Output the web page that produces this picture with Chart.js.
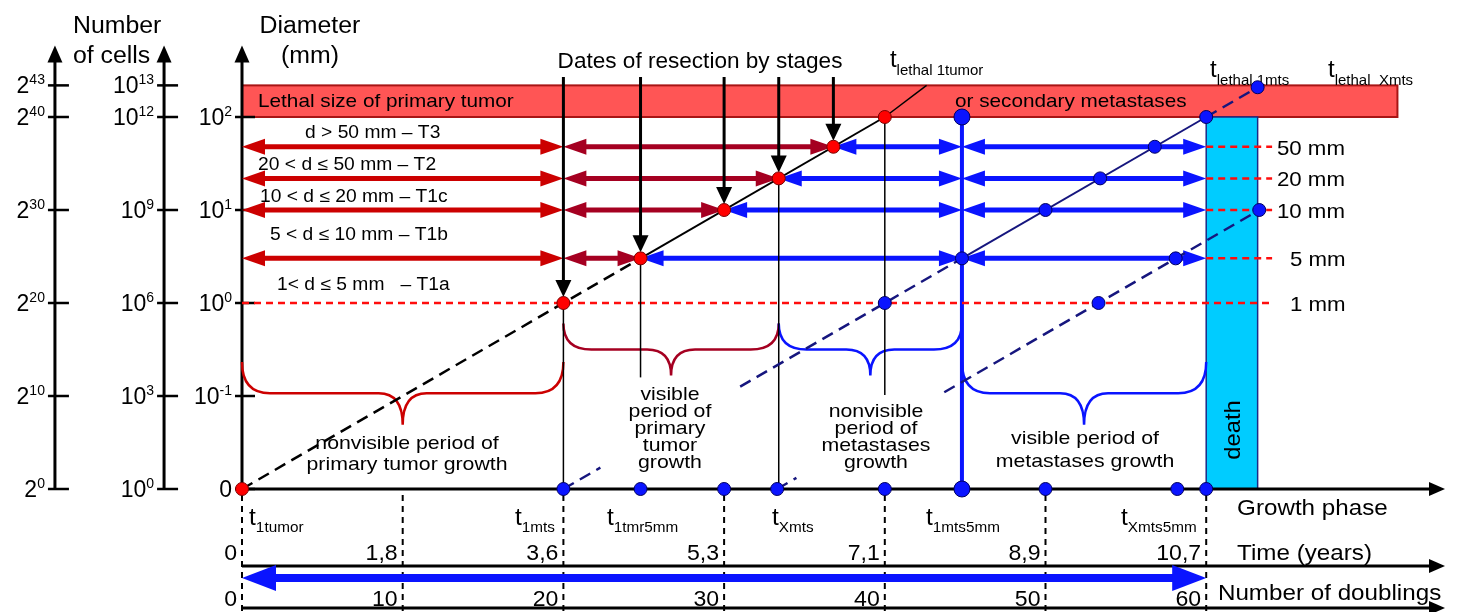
<!DOCTYPE html>
<html>
<head>
<meta charset="utf-8">
<script src="https://cdn.jsdelivr.net/npm/chart.js@4.4.0/dist/chart.umd.min.js"></script>
<style>
  html, body { margin: 0; padding: 0; background: #ffffff; }
  canvas { display: block; }
</style>
</head>
<body>
<canvas id="growth" width="1465" height="612"></canvas>
<script>
// ---- horizontal axis: number of tumour doublings, with the matching time in years
const doublings = [0, 10, 20, 30, 40, 50, 60];
const years = ['0', '1,8', '3,6', '5,3', '7,1', '8,9', '10,7'];

// ---- vertical axis: log2 of the number of cells
const cellTickPos = [0, 10, 20, 30, 40, 43.4];
const pow2Exp = ['0', '10', '20', '30', '40', '43'];
const pow10Exp = ['0', '3', '6', '9', '12', '13'];
const diamTickPos = [0, 10, 20, 30, 40];
const diamBase = ['0', '10', '10', '10', '10'];
const diamExp = ['', '-1', '0', '1', '2'];

// ---- diameter rows (log2 cell level) and T stages
const rowNames = ['1 mm', '5 mm', '10 mm', '20 mm', '50 mm'];
const rowLevels = [20, 24.8, 30, 33.4, 36.8];
const stageNames = ['1< d \u2264 5 mm   \u2013 T1a', '5 < d \u2264 10 mm \u2013 T1b', '10 < d \u2264 20 mm \u2013 T1c',
                    '20 < d \u2264 50 mm \u2013 T2', 'd > 50 mm \u2013 T3'];
const lethalLevel = 40;
const lethalTop = 43.4;
const lethalBandEnd = 71.9;

// ---- growth onsets and key dates (doublings)
const onsetPrimary = 0;
const onsetMts1 = 20;
const onsetMtsX = 33.3;
const t1mts5mm = 44.8;
const deathFrom = 60;
const deathTo = 63.2;
const axisMarks = [20, 24.8, 30, 33.3, 40, 50, 58.2, 60];

// ---- visible stretches of the growth lines
const primaryDashed = [[0, 0], [24.8, 24.8]];
const primarySolid = [[24.8, 24.8], [40, 40]];
const primaryTail = [[40, 40], [42.6, 43.4]];
const mts1Dashed = [[20, 22.3], [31, 44.8], [60, 63.2]];
const mts1Solid = [[44.8, 60]];
const mtsXDashed = [[33.3, 34.5], [43.7, 63.3]];
const mts1DotLevels = [20, 24.8, 30, 33.4, 36.8, 40, 43.2];
const mtsXDotLevels = [20, 24.8, 30];
// thin drop lines below the primary tumour dates: [date, lower end]
const dropLines = [[20, 0], [24.8, 12.0], [33.4, 0], [40, 10.1]];

const BLUE = '#0a14ff', NAVY = '#16167e', RED = '#cc0000', DARKRED = '#a50021', LINERED = '#ff0d0d';
const FONT = '"Liberation Sans", Arial, Helvetica, sans-serif';
const STRETCH = 1.12;

const pts = arr => arr.map(([x, y]) => ({ x, y }));
const along = (ranges, onset) => ranges.map(([a, b]) => [[a, a - onset], [b, b - onset]]);

function lineDS(points, color, width, dash) {
  return { data: pts(points), showLine: true, borderColor: color, borderWidth: width,
           borderDash: dash || [], borderCapStyle: 'butt', pointRadius: 0, pointHoverRadius: 0,
           fill: false, tension: 0, order: 2, clip: false };
}
function dotDS(points, fill, stroke, r) {
  return { data: pts(points), showLine: false, backgroundColor: fill, borderColor: stroke,
           borderWidth: 1, pointRadius: r, pointHoverRadius: r, order: 1, clip: false };
}

const datasets = [];
// dots
datasets.push(dotDS([[onsetPrimary, 0]].concat(rowLevels.map(l => [l, l]), [[lethalLevel, lethalLevel]]), '#ff0000', '#7a0000', 6.5));
datasets.push(dotDS(axisMarks.map(t => [t, 0]), BLUE, '#000060', 6.5));
datasets.push(dotDS(mts1DotLevels.map(l => [l + onsetMts1, l]), BLUE, '#000060', 6.5));
datasets.push(dotDS(mtsXDotLevels.map(l => [l + onsetMtsX, l]), BLUE, '#000060', 6.5));
datasets.push(dotDS([[t1mts5mm, 0], [t1mts5mm, lethalLevel]], BLUE, '#000060', 8));
// primary tumour growth
datasets.push(lineDS(primaryDashed, '#000', 2.5, [12, 7]));
datasets.push(lineDS(primarySolid, '#000', 2));
datasets.push(lineDS(primaryTail, '#000', 1.5));
// metastases growth
along(mts1Dashed, onsetMts1).forEach(s => datasets.push(lineDS(s, NAVY, 2.5, [12, 7])));
along(mts1Solid, onsetMts1).forEach(s => datasets.push(lineDS(s, NAVY, 2)));
along(mtsXDashed, onsetMtsX).forEach(s => datasets.push(lineDS(s, NAVY, 2.5, [12, 7])));
// drop lines
dropLines.forEach(([t, low]) => datasets.push(lineDS([[t, low], [t, t]], '#000', 1.5)));
// 1 mm threshold and the right-hand diameter markers
datasets.push(lineDS([[0, rowLevels[0]], [64.1, rowLevels[0]]], LINERED, 2.5, [7, 5]));
rowLevels.slice(1).forEach(l => datasets.push(lineDS([[deathFrom, l], [64.1, l]], LINERED, 2.5, [7, 5])));

// ---------- drawing helpers
function put(ctx, str, x, y, size, align, color, stretch) {
  stretch = stretch || STRETCH;
  ctx.save();
  ctx.font = size + 'px ' + FONT;
  ctx.textBaseline = 'alphabetic';
  ctx.textAlign = 'left';
  const w = ctx.measureText(str).width * stretch;
  const x0 = align === 'center' ? x - w / 2 : align === 'right' ? x - w : x;
  ctx.translate(x0, y);
  ctx.scale(stretch, 1);
  ctx.fillStyle = color || '#000';
  ctx.fillText(str, 0, 0);
  ctx.restore();
}
function putRich(ctx, parts, x, y, align, stretch) {
  stretch = stretch || STRETCH;
  ctx.save();
  const widths = parts.map(p => { ctx.font = p[1] + 'px ' + FONT; return ctx.measureText(p[0]).width * stretch; });
  const total = widths.reduce((a, b) => a + b, 0);
  let cx = align === 'center' ? x - total / 2 : align === 'right' ? x - total : x;
  parts.forEach((p, i) => {
    ctx.save();
    ctx.font = p[1] + 'px ' + FONT;
    ctx.textBaseline = 'alphabetic';
    ctx.textAlign = 'left';
    ctx.translate(cx, y + (p[2] || 0));
    ctx.scale(stretch, 1);
    ctx.fillStyle = '#000';
    ctx.fillText(p[0], 0, 0);
    ctx.restore();
    cx += widths[i];
  });
  ctx.restore();
}
function head(ctx, tx, ty, dx, dy, len, half, color) {
  const bx = tx - dx * len, by = ty - dy * len, nx = -dy, ny = dx;
  ctx.beginPath();
  ctx.moveTo(tx, ty);
  ctx.lineTo(bx + nx * half, by + ny * half);
  ctx.lineTo(bx - nx * half, by - ny * half);
  ctx.closePath();
  ctx.fillStyle = color;
  ctx.fill();
}
function hArrow(ctx, x1, x2, y, color, width, len, half) {
  ctx.save();
  ctx.strokeStyle = color;
  ctx.lineWidth = width;
  ctx.beginPath();
  ctx.moveTo(x1 + len * 0.7, y);
  ctx.lineTo(x2 - len * 0.7, y);
  ctx.stroke();
  head(ctx, x1, y, -1, 0, len, half, color);
  head(ctx, x2, y, 1, 0, len, half, color);
  ctx.restore();
}
function vLine(ctx, x, y1, y2, color, width, dash) {
  ctx.save();
  ctx.strokeStyle = color;
  ctx.lineWidth = width;
  ctx.setLineDash(dash || []);
  ctx.beginPath();
  ctx.moveTo(x, y1);
  ctx.lineTo(x, y2);
  ctx.stroke();
  ctx.restore();
}
function hLine(ctx, x1, x2, y, color, width) {
  ctx.save();
  ctx.strokeStyle = color;
  ctx.lineWidth = width;
  ctx.beginPath();
  ctx.moveTo(x1, y);
  ctx.lineTo(x2, y);
  ctx.stroke();
  ctx.restore();
}
function brace(ctx, x1, x2, yTop, yMid, yTip, color) {
  const xm = (x1 + x2) / 2, r = 28, r2 = 24;
  ctx.save();
  ctx.strokeStyle = color;
  ctx.lineWidth = 2.5;
  ctx.beginPath();
  ctx.moveTo(x1, yTop);
  ctx.quadraticCurveTo(x1, yMid, x1 + r, yMid);
  ctx.lineTo(xm - r2, yMid);
  ctx.quadraticCurveTo(xm, yMid, xm, yTip);
  ctx.quadraticCurveTo(xm, yMid, xm + r2, yMid);
  ctx.lineTo(x2 - r, yMid);
  ctx.quadraticCurveTo(x2, yMid, x2, yTop);
  ctx.stroke();
  ctx.restore();
}

const diagram = {
  id: 'diagram',
  beforeDatasetsDraw(chart) {
    const ctx = chart.ctx;
    const X = v => chart.scales.x.getPixelForValue(v);
    const Y = v => chart.scales.y.getPixelForValue(v);

    // lethal size band
    ctx.save();
    ctx.fillStyle = '#ff5555';
    ctx.strokeStyle = '#a81515';
    ctx.lineWidth = 2;
    ctx.fillRect(X(0), Y(lethalTop), X(lethalBandEnd) - X(0), Y(lethalLevel) - Y(lethalTop));
    ctx.strokeRect(X(0), Y(lethalTop), X(lethalBandEnd) - X(0), Y(lethalLevel) - Y(lethalTop));
    ctx.restore();
    put(ctx, 'Lethal size of primary tumor', X(1.0), Y(41.08), 18.5);
    put(ctx, 'or secondary metastases', X(44.37), Y(41.08), 18.5);

    // death period
    ctx.save();
    ctx.fillStyle = '#00ccff';
    ctx.strokeStyle = '#1c2a86';
    ctx.lineWidth = 1.5;
    ctx.fillRect(X(deathFrom), Y(lethalLevel), X(deathTo) - X(deathFrom), Y(0) - Y(lethalLevel));
    ctx.strokeRect(X(deathFrom), Y(lethalLevel), X(deathTo) - X(deathFrom), Y(0) - Y(lethalLevel));
    ctx.restore();
    ctx.save();
    ctx.translate(X((deathFrom + deathTo) / 2) + 8, Y(6.34));
    ctx.rotate(-Math.PI / 2);
    put(ctx, 'death', 0, 0, 22, 'center', '#000', 1.08);
    ctx.restore();

    // cell-count and diameter axes
    const axes = [{ x: -11.64, base: '2', exp: pow2Exp, pos: cellTickPos },
                  { x: -4.85, base: '10', exp: pow10Exp, pos: cellTickPos }];
    const top = Y(47.7);
    axes.forEach(a => {
      const ax = X(a.x);
      vLine(ctx, ax, Y(0), top + 12, '#000', 3);
      head(ctx, ax, top, 0, -1, 17, 7.5, '#000');
      a.pos.forEach((p, i) => {
        hLine(ctx, ax - 7, ax + 14, Y(p), '#000', 2.5);
        putRich(ctx, [[a.base, 23], [a.exp[i], 14, -9]], ax - 10, Y(p) + 8, 'right', 1.0);
      });
    });
    const dx = X(0);
    vLine(ctx, dx, Y(0), top + 12, '#000', 3);
    head(ctx, dx, top, 0, -1, 17, 7.5, '#000');
    diamTickPos.forEach((p, i) => {
      hLine(ctx, dx - 7, dx + 13, Y(p), '#000', 2.5);
      putRich(ctx, [[diamBase[i], 23], [diamExp[i], 14, -9]], dx - 10, Y(p) + 8, 'right', 1.0);
    });
    put(ctx, 'Number', X(-10.52), Y(49.03), 23, 'left', '#000', 1.08);
    put(ctx, 'of cells', X(-10.52), Y(45.8), 23, 'left', '#000', 1.08);
    put(ctx, 'Diameter', X(4.23), Y(49.03), 23, 'center', '#000', 1.08);
    put(ctx, '(mm)', X(4.23), Y(45.8), 23, 'center', '#000', 1.08);

    // growth phase, time and doublings axes
    const rightEnd = X(74.86);
    [[0, 3], [-8.28, 3], [-12.8, 3]].forEach(([lv, w]) => {
      hLine(ctx, X(0), rightEnd - 10, Y(lv), '#000', w);
      head(ctx, rightEnd, Y(lv), 1, 0, 16, 7, '#000');
    });
    doublings.forEach((d, i) => {
      vLine(ctx, X(d), Y(0) + 6, 612, '#000', 2, [6, 5]);
      put(ctx, years[i], X(d) - 5, Y(-7.63), 22, 'right', '#000', 1.05);
      put(ctx, String(d), X(d) - 5, Y(-12.58), 22, 'right', '#000', 1.05);
    });
    hArrow(ctx, X(0), X(doublings[doublings.length - 1]), Y(-9.57), BLUE, 8, 34, 13);
    put(ctx, 'Growth phase', X(61.92), Y(-2.8), 22, 'left', '#000', 1.1);
    put(ctx, 'Time (years)', X(61.92), Y(-7.63), 22, 'left', '#000', 1.1);
    put(ctx, 'Number of doublings', X(60.73), Y(-11.94), 22, 'left', '#000', 1.1);

    const tLabels = [['1tumor', 0.44], ['1mts', 16.99], ['1tmr5mm', 22.71], ['Xmts', 32.98], ['1mts5mm', 42.56], ['Xmts5mm', 54.7]];
    tLabels.forEach(([s, x]) => putRich(ctx, [['t', 24], [s, 15, 7]], X(x), Y(-3.87), 'left', 1.02));
    putRich(ctx, [['t', 24], ['lethal 1tumor', 15, 8]], X(40.32), Y(45.38), 'left', 1.0);
    putRich(ctx, [['t', 24], ['lethal 1mts', 15, 8]], X(60.24), Y(44.3), 'left', 1.0);
    putRich(ctx, [['t', 24], ['lethal  Xmts', 15, 8]], X(67.58), Y(44.3), 'left', 1.0);

    // stage double arrows
    rowLevels.slice(1).forEach(l => {
      const y = Y(l);
      hArrow(ctx, X(0), X(rowLevels[0]), y, RED, 5, 23, 8);
      hArrow(ctx, X(rowLevels[0]), X(l), y, DARKRED, 5, 23, 8);
      hArrow(ctx, X(l), X(t1mts5mm), y, BLUE, 5, 23, 8);
      hArrow(ctx, X(t1mts5mm), X(deathFrom), y, BLUE, 5, 23, 8);
    });
    const stageX = [2.18, 1.74, 1.12, 1.0, 3.92];
    const stageY = [21.4, 26.77, 30.86, 34.3, 37.74];
    stageNames.forEach((s, i) => put(ctx, s, X(stageX[i]), Y(stageY[i]), 17.5, 'left', '#000', 1.1));
    const nameX = [65.21, 65.21, 64.4, 64.4, 64.4];
    rowNames.forEach((s, i) => put(ctx, s, X(nameX[i]), Y(rowLevels[i]) + 8, 21, 'left', '#000', 1.06));

    // blue boundary at the 5 mm metastasis date
    vLine(ctx, X(t1mts5mm), Y(0), Y(lethalLevel), BLUE, 4);

    // periods of growth
    brace(ctx, X(0), X(rowLevels[0]), Y(13.66), Y(10.3), Y(6.9), RED);
    brace(ctx, X(rowLevels[0]), X(rowLevels[3]), Y(17.8), Y(15.0), Y(12.2), DARKRED);
    brace(ctx, X(rowLevels[3]), X(t1mts5mm), Y(17.8), Y(15.0), Y(12.2), BLUE);
    brace(ctx, X(t1mts5mm), X(deathFrom), Y(13.66), Y(10.3), Y(6.9), BLUE);
    put(ctx, 'nonvisible period of', X(10.27), Y(4.3), 19, 'center');
    put(ctx, 'primary tumor growth', X(10.27), Y(2.04), 19, 'center');
    ['visible', 'period of', 'primary', 'tumor', 'growth'].forEach((s, i) =>
      put(ctx, s, X(26.63), Y(9.57 - i * 1.83), 19, 'center'));
    ['nonvisible', 'period of', 'metastases', 'growth'].forEach((s, i) =>
      put(ctx, s, X(39.45), Y(7.74 - i * 1.83), 19, 'center'));
    put(ctx, 'visible period of', X(52.46), Y(4.84), 19, 'center');
    put(ctx, 'metastases growth', X(52.46), Y(2.37), 19, 'center');

    // dates of resection by stages
    put(ctx, 'Dates of resection by stages', X(28.5), Y(45.27), 21.5, 'center', '#000', 1.05);
    rowLevels.forEach(l => {
      const x = X(l), tip = Y(l) - 6;
      vLine(ctx, x, Y(44.3), tip - 12, '#000', 3);
      head(ctx, x, tip, 0, 1, 17, 8, '#000');
    });
  }
};

new Chart(document.getElementById('growth'), {
  type: 'scatter',
  data: { datasets },
  options: {
    responsive: false,
    animation: false,
    devicePixelRatio: 1,
    events: [],
    layout: { padding: 0, autoPadding: false },
    scales: {
      x: { type: 'linear', min: -15.059, max: 76.104, display: false },
      y: { type: 'linear', min: -13.226, max: 52.581, display: false }
    },
    plugins: { legend: { display: false }, tooltip: { enabled: false } }
  },
  plugins: [diagram]
});
</script>
</body>
</html>
